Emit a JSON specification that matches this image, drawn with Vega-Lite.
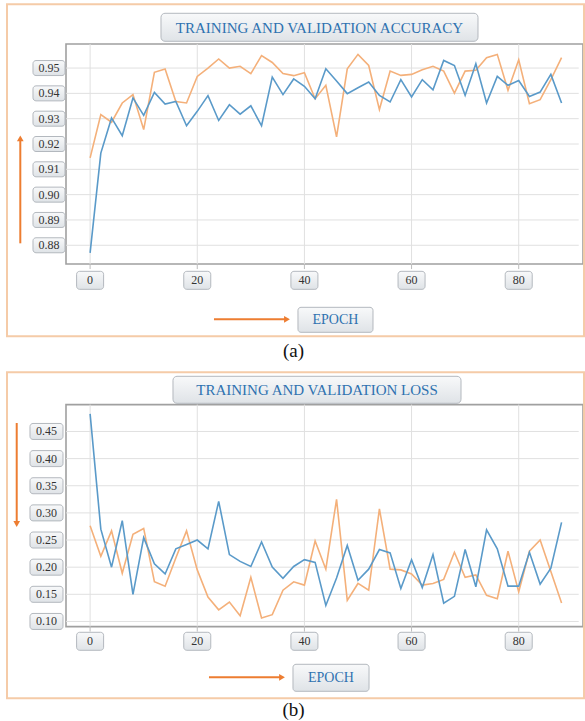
{
  "$schema": "https://vega.github.io/schema/vega-lite/v6.json",
  "padding": {"left": 5, "top": 2, "right": 0, "bottom": 0},
  "background": "white",
  "spacing": 140.6,
  "bounds": "flush",
  "config": {
    "view": {"stroke": "#a0a0a0", "strokeWidth": 1.6},
    "scale": {"continuousPadding": 0}
  },
  "datasets": {
    "acc": [
      {"epoch": 0, "train": 0.877, "val": 0.9145},
      {"epoch": 2, "train": 0.9164, "val": 0.9316},
      {"epoch": 4, "train": 0.9303, "val": 0.9286},
      {"epoch": 6, "train": 0.9233, "val": 0.9362},
      {"epoch": 8, "train": 0.9382, "val": 0.9395},
      {"epoch": 10, "train": 0.9313, "val": 0.9257},
      {"epoch": 12, "train": 0.9404, "val": 0.9483},
      {"epoch": 14, "train": 0.9358, "val": 0.9496},
      {"epoch": 16, "train": 0.9368, "val": 0.9368},
      {"epoch": 18, "train": 0.9272, "val": 0.9362},
      {"epoch": 20, "train": 0.9329, "val": 0.9467},
      {"epoch": 22, "train": 0.9391, "val": 0.95},
      {"epoch": 24, "train": 0.9293, "val": 0.9536},
      {"epoch": 26, "train": 0.9355, "val": 0.95},
      {"epoch": 28, "train": 0.9318, "val": 0.9507},
      {"epoch": 30, "train": 0.9351, "val": 0.9478},
      {"epoch": 32, "train": 0.9272, "val": 0.9549},
      {"epoch": 34, "train": 0.9464, "val": 0.9522},
      {"epoch": 36, "train": 0.9395, "val": 0.9478},
      {"epoch": 38, "train": 0.9457, "val": 0.947},
      {"epoch": 40, "train": 0.9428, "val": 0.9482},
      {"epoch": 42, "train": 0.9379, "val": 0.9379},
      {"epoch": 44, "train": 0.9497, "val": 0.9432},
      {"epoch": 46, "train": 0.9449, "val": 0.9228},
      {"epoch": 48, "train": 0.9399, "val": 0.9497},
      {"epoch": 50, "train": 0.9422, "val": 0.9554},
      {"epoch": 52, "train": 0.9445, "val": 0.951},
      {"epoch": 54, "train": 0.9392, "val": 0.9336},
      {"epoch": 56, "train": 0.9366, "val": 0.9488},
      {"epoch": 58, "train": 0.9454, "val": 0.9471},
      {"epoch": 60, "train": 0.9386, "val": 0.9475},
      {"epoch": 62, "train": 0.9454, "val": 0.9493},
      {"epoch": 64, "train": 0.9414, "val": 0.9507},
      {"epoch": 66, "train": 0.953, "val": 0.9488},
      {"epoch": 68, "train": 0.951, "val": 0.9401},
      {"epoch": 70, "train": 0.9392, "val": 0.9488},
      {"epoch": 72, "train": 0.9517, "val": 0.9491},
      {"epoch": 74, "train": 0.9362, "val": 0.9541},
      {"epoch": 76, "train": 0.9467, "val": 0.9554},
      {"epoch": 78, "train": 0.9432, "val": 0.9412},
      {"epoch": 80, "train": 0.9451, "val": 0.9533},
      {"epoch": 82, "train": 0.9388, "val": 0.9359},
      {"epoch": 84, "train": 0.9405, "val": 0.9375},
      {"epoch": 86, "train": 0.9475, "val": 0.9454},
      {"epoch": 88, "train": 0.9362, "val": 0.9541}
    ],
    "loss": [
      {"epoch": 0, "train": 0.4825, "val": 0.2763},
      {"epoch": 2, "train": 0.27, "val": 0.22},
      {"epoch": 4, "train": 0.2, "val": 0.2669},
      {"epoch": 6, "train": 0.2856, "val": 0.1888},
      {"epoch": 8, "train": 0.15, "val": 0.2606},
      {"epoch": 10, "train": 0.2544, "val": 0.2713},
      {"epoch": 12, "train": 0.2063, "val": 0.1731},
      {"epoch": 14, "train": 0.1875, "val": 0.165},
      {"epoch": 16, "train": 0.2338, "val": 0.2169},
      {"epoch": 18, "train": 0.2419, "val": 0.2669},
      {"epoch": 20, "train": 0.25, "val": 0.195},
      {"epoch": 22, "train": 0.2338, "val": 0.145},
      {"epoch": 24, "train": 0.3213, "val": 0.1213},
      {"epoch": 26, "train": 0.2231, "val": 0.1356},
      {"epoch": 28, "train": 0.2106, "val": 0.1106},
      {"epoch": 30, "train": 0.2013, "val": 0.1813},
      {"epoch": 32, "train": 0.2463, "val": 0.1063},
      {"epoch": 34, "train": 0.2, "val": 0.1125},
      {"epoch": 36, "train": 0.1794, "val": 0.1575},
      {"epoch": 38, "train": 0.2013, "val": 0.1731},
      {"epoch": 40, "train": 0.2138, "val": 0.1669},
      {"epoch": 42, "train": 0.2088, "val": 0.2481},
      {"epoch": 44, "train": 0.1294, "val": 0.1963},
      {"epoch": 46, "train": 0.18, "val": 0.325},
      {"epoch": 48, "train": 0.24, "val": 0.1388},
      {"epoch": 50, "train": 0.176, "val": 0.17},
      {"epoch": 52, "train": 0.1963, "val": 0.1575},
      {"epoch": 54, "train": 0.2325, "val": 0.3075},
      {"epoch": 56, "train": 0.2263, "val": 0.1963},
      {"epoch": 58, "train": 0.1606, "val": 0.195},
      {"epoch": 60, "train": 0.2138, "val": 0.1875},
      {"epoch": 62, "train": 0.1625, "val": 0.1669},
      {"epoch": 64, "train": 0.2231, "val": 0.17},
      {"epoch": 66, "train": 0.1338, "val": 0.1775},
      {"epoch": 68, "train": 0.1463, "val": 0.2275},
      {"epoch": 70, "train": 0.2325, "val": 0.1813},
      {"epoch": 72, "train": 0.1638, "val": 0.1856},
      {"epoch": 74, "train": 0.2688, "val": 0.1481},
      {"epoch": 76, "train": 0.2338, "val": 0.1419},
      {"epoch": 78, "train": 0.165, "val": 0.2294},
      {"epoch": 80, "train": 0.165, "val": 0.1544},
      {"epoch": 82, "train": 0.2275, "val": 0.2294},
      {"epoch": 84, "train": 0.1688, "val": 0.25},
      {"epoch": 86, "train": 0.1981, "val": 0.1919},
      {"epoch": 88, "train": 0.2825, "val": 0.1338}
    ],
    "xt": [{"t": 0}, {"t": 20}, {"t": 40}, {"t": 60}, {"t": 80}],
    "yta": [{"v": 0.88}, {"v": 0.89}, {"v": 0.9}, {"v": 0.91}, {"v": 0.92}, {"v": 0.93}, {"v": 0.94}, {"v": 0.95}],
    "ytb": [{"v": 0.1}, {"v": 0.15}, {"v": 0.2}, {"v": 0.25}, {"v": 0.3}, {"v": 0.35}, {"v": 0.4}, {"v": 0.45}],
    "one": [{}]
  },
  "vconcat": [
    {
      "width": 517,
      "height": 220,
      "layer": [
        {
          "data": {"name": "one"},
          "mark": {"type": "rect", "fill": "transparent", "stroke": "#f5cba8", "strokeWidth": 2},
          "encoding": {
            "x": {"datum": -15.51, "type": "quantitative", "axis": null},
            "x2": {"datum": 92.19},
            "y": {"datum": 0.97518, "type": "quantitative", "axis": null},
            "y2": {"datum": 0.84404}
          }
        },
        {
          "data": {"name": "xt"},
          "mark": {"type": "rule", "color": "#e0e0e0", "strokeWidth": 1},
          "encoding": {
            "x": {"field": "t", "type": "quantitative", "axis": null},
            "y": {"datum": 0.8726, "type": "quantitative", "axis": null},
            "y2": {"datum": 0.9595}
          }
        },
        {
          "data": {"name": "xt"},
          "mark": {"type": "rule", "color": "#bdbdbd", "strokeWidth": 1},
          "encoding": {
            "x": {"field": "t", "type": "quantitative", "axis": null},
            "y": {"datum": 0.8726, "type": "quantitative", "axis": null},
            "y2": {"datum": 0.8706}
          }
        },
        {
          "data": {"name": "yta"},
          "mark": {"type": "rule", "color": "#e0e0e0", "strokeWidth": 1},
          "encoding": {
            "y": {"field": "v", "type": "quantitative", "axis": null},
            "x": {"datum": -4.5, "type": "quantitative", "axis": null},
            "x2": {"datum": 91.2}
          }
        },
        {
          "data": {"name": "acc"},
          "mark": {"type": "line", "color": "#f4b07a", "strokeWidth": 1.6},
          "encoding": {
            "x": {"field": "epoch", "type": "quantitative", "scale": {"domain": [-4.5, 92], "nice": false, "zero": false, "padding": 0}, "axis": null},
            "y": {"field": "val", "type": "quantitative", "scale": {"domain": [0.8726, 0.9595], "nice": false, "zero": false, "padding": 0}, "axis": null}
          }
        },
        {
          "data": {"name": "acc"},
          "mark": {"type": "line", "color": "#5a9ac9", "strokeWidth": 1.6},
          "encoding": {
            "x": {"field": "epoch", "type": "quantitative", "axis": null},
            "y": {"field": "train", "type": "quantitative", "axis": null}
          }
        },
        {
          "data": {"name": "yta"},
          "mark": {"type": "bar", "height": 15, "cornerRadius": 3, "stroke": "#b3b8be", "strokeWidth": 1, "fill": {"gradient": "linear", "x1": 0, "y1": 0, "x2": 0, "y2": 1, "stops": [{"offset": 0, "color": "#f8f9fa"}, {"offset": 1, "color": "#dfe3e7"}]}},
          "encoding": {
            "y": {"field": "v", "type": "quantitative", "axis": null},
            "x": {"datum": -10.66, "type": "quantitative", "axis": null},
            "x2": {"datum": -4.69}
          }
        },
        {
          "data": {"name": "yta"},
          "mark": {"type": "text", "font": "Liberation Serif", "fontSize": 12, "color": "#333333", "baseline": "middle", "align": "center"},
          "encoding": {
            "y": {"field": "v", "type": "quantitative", "axis": null},
            "x": {"datum": -7.67, "type": "quantitative", "axis": null},
            "text": {"field": "v", "type": "quantitative", "format": ".2f"}
          }
        },
        {
          "data": {"name": "xt"},
          "mark": {"type": "bar", "width": 27, "cornerRadius": 3, "stroke": "#b3b8be", "strokeWidth": 1, "fill": {"gradient": "linear", "x1": 0, "y1": 0, "x2": 0, "y2": 1, "stops": [{"offset": 0, "color": "#f8f9fa"}, {"offset": 1, "color": "#dfe3e7"}]}},
          "encoding": {
            "x": {"field": "t", "type": "quantitative", "axis": null},
            "y": {"datum": 0.86971, "type": "quantitative", "axis": null},
            "y2": {"datum": 0.8626}
          }
        },
        {
          "data": {"name": "xt"},
          "mark": {"type": "text", "font": "Liberation Serif", "fontSize": 12, "color": "#333333", "baseline": "middle", "align": "center"},
          "encoding": {
            "x": {"field": "t", "type": "quantitative", "axis": null},
            "y": {"datum": 0.86616, "type": "quantitative", "axis": null},
            "text": {"field": "t", "type": "quantitative"}
          }
        },
        {
          "data": {"name": "one"},
          "mark": {"type": "rect", "cornerRadius": 4, "stroke": "#b3b8be", "strokeWidth": 1, "fill": {"gradient": "linear", "x1": 0, "y1": 0, "x2": 0, "y2": 1, "stops": [{"offset": 0, "color": "#f8f9fa"}, {"offset": 1, "color": "#dfe3e7"}]}},
          "encoding": {
            "x": {"datum": 13.23, "type": "quantitative", "axis": null},
            "x2": {"datum": 72.4},
            "y": {"datum": 0.97163, "type": "quantitative", "axis": null},
            "y2": {"datum": 0.96057}
          }
        },
        {
          "data": {"name": "one"},
          "mark": {"type": "text", "text": "TRAINING AND VALIDATION ACCURACY", "font": "Liberation Serif", "fontSize": 15, "color": "#2f72b0", "baseline": "middle", "align": "center"},
          "encoding": {
            "x": {"datum": 42.82, "type": "quantitative", "axis": null},
            "y": {"datum": 0.9659, "type": "quantitative", "axis": null}
          }
        },
        {
          "data": {"name": "one"},
          "mark": {"type": "rule", "color": "#ed7d31", "strokeWidth": 2},
          "encoding": {
            "x": {"datum": -13.03, "type": "quantitative", "axis": null},
            "y": {"datum": 0.88077, "type": "quantitative", "axis": null},
            "y2": {"datum": 0.92225}
          }
        },
        {
          "data": {"name": "one"},
          "mark": {"type": "point", "shape": "triangle-up", "filled": true, "color": "#ed7d31", "size": 45, "opacity": 1},
          "encoding": {
            "x": {"datum": -13.03, "type": "quantitative", "axis": null},
            "y": {"datum": 0.92225, "type": "quantitative", "axis": null}
          }
        },
        {
          "data": {"name": "one"},
          "mark": {"type": "rule", "color": "#ed7d31", "strokeWidth": 2},
          "encoding": {
            "x": {"datum": 23.12, "type": "quantitative", "axis": null},
            "x2": {"datum": 36.75},
            "y": {"datum": 0.85075, "type": "quantitative", "axis": null}
          }
        },
        {
          "data": {"name": "one"},
          "mark": {"type": "point", "shape": "triangle-right", "filled": true, "color": "#ed7d31", "size": 45, "opacity": 1},
          "encoding": {
            "x": {"datum": 36.75, "type": "quantitative", "axis": null},
            "y": {"datum": 0.85075, "type": "quantitative", "axis": null}
          }
        },
        {
          "data": {"name": "one"},
          "mark": {"type": "rect", "cornerRadius": 3, "stroke": "#b3b8be", "strokeWidth": 1, "fill": {"gradient": "linear", "x1": 0, "y1": 0, "x2": 0, "y2": 1, "stops": [{"offset": 0, "color": "#f8f9fa"}, {"offset": 1, "color": "#dfe3e7"}]}},
          "encoding": {
            "x": {"datum": 38.8, "type": "quantitative", "axis": null},
            "x2": {"datum": 52.8},
            "y": {"datum": 0.85549, "type": "quantitative", "axis": null},
            "y2": {"datum": 0.84562}
          }
        },
        {
          "data": {"name": "one"},
          "mark": {"type": "text", "text": "EPOCH", "font": "Liberation Serif", "fontSize": 14, "color": "#2f72b0", "baseline": "middle", "align": "center"},
          "encoding": {
            "x": {"datum": 45.8, "type": "quantitative", "axis": null},
            "y": {"datum": 0.85055, "type": "quantitative", "axis": null}
          }
        },
        {
          "data": {"name": "one"},
          "mark": {"type": "text", "text": "(a)", "font": "Liberation Serif", "fontSize": 19, "color": "#111111", "baseline": "middle", "align": "center"},
          "encoding": {
            "x": {"datum": 37.96, "type": "quantitative", "axis": null},
            "y": {"datum": 0.83811, "type": "quantitative", "axis": null}
          }
        }
      ]
    },
    {
      "width": 517,
      "height": 222,
      "layer": [
        {
          "data": {"name": "one"},
          "mark": {"type": "rect", "fill": "transparent", "stroke": "#f5cba8", "strokeWidth": 2},
          "encoding": {
            "x": {"datum": -15.51, "type": "quantitative", "axis": null},
            "x2": {"datum": 92.19},
            "y": {"datum": 0.55901, "type": "quantitative", "axis": null},
            "y2": {"datum": -0.04158}
          }
        },
        {
          "data": {"name": "xt"},
          "mark": {"type": "rule", "color": "#e0e0e0", "strokeWidth": 1},
          "encoding": {
            "x": {"field": "t", "type": "quantitative", "axis": null},
            "y": {"datum": 0.0905, "type": "quantitative", "axis": null},
            "y2": {"datum": 0.4995}
          }
        },
        {
          "data": {"name": "xt"},
          "mark": {"type": "rule", "color": "#bdbdbd", "strokeWidth": 1},
          "encoding": {
            "x": {"field": "t", "type": "quantitative", "axis": null},
            "y": {"datum": 0.0905, "type": "quantitative", "axis": null},
            "y2": {"datum": 0.0813}
          }
        },
        {
          "data": {"name": "ytb"},
          "mark": {"type": "rule", "color": "#e0e0e0", "strokeWidth": 1},
          "encoding": {
            "y": {"field": "v", "type": "quantitative", "axis": null},
            "x": {"datum": -4.5, "type": "quantitative", "axis": null},
            "x2": {"datum": 91.2}
          }
        },
        {
          "data": {"name": "loss"},
          "mark": {"type": "line", "color": "#f4b07a", "strokeWidth": 1.6},
          "encoding": {
            "x": {"field": "epoch", "type": "quantitative", "scale": {"domain": [-4.5, 92], "nice": false, "zero": false, "padding": 0}, "axis": null},
            "y": {"field": "val", "type": "quantitative", "scale": {"domain": [0.0905, 0.4995], "nice": false, "zero": false, "padding": 0}, "axis": null}
          }
        },
        {
          "data": {"name": "loss"},
          "mark": {"type": "line", "color": "#5a9ac9", "strokeWidth": 1.6},
          "encoding": {
            "x": {"field": "epoch", "type": "quantitative", "axis": null},
            "y": {"field": "train", "type": "quantitative", "axis": null}
          }
        },
        {
          "data": {"name": "ytb"},
          "mark": {"type": "bar", "height": 16, "cornerRadius": 3, "stroke": "#b3b8be", "strokeWidth": 1, "fill": {"gradient": "linear", "x1": 0, "y1": 0, "x2": 0, "y2": 1, "stops": [{"offset": 0, "color": "#f8f9fa"}, {"offset": 1, "color": "#dfe3e7"}]}},
          "encoding": {
            "y": {"field": "v", "type": "quantitative", "axis": null},
            "x": {"datum": -11.22, "type": "quantitative", "axis": null},
            "x2": {"datum": -5.06}
          }
        },
        {
          "data": {"name": "ytb"},
          "mark": {"type": "text", "font": "Liberation Serif", "fontSize": 12, "color": "#333333", "baseline": "middle", "align": "center"},
          "encoding": {
            "y": {"field": "v", "type": "quantitative", "axis": null},
            "x": {"datum": -8.14, "type": "quantitative", "axis": null},
            "text": {"field": "v", "type": "quantitative", "format": ".2f"}
          }
        },
        {
          "data": {"name": "xt"},
          "mark": {"type": "bar", "width": 27, "cornerRadius": 3, "stroke": "#b3b8be", "strokeWidth": 1, "fill": {"gradient": "linear", "x1": 0, "y1": 0, "x2": 0, "y2": 1, "stops": [{"offset": 0, "color": "#f8f9fa"}, {"offset": 1, "color": "#dfe3e7"}]}},
          "encoding": {
            "x": {"field": "t", "type": "quantitative", "axis": null},
            "y": {"datum": 0.08001, "type": "quantitative", "axis": null},
            "y2": {"datum": 0.04685}
          }
        },
        {
          "data": {"name": "xt"},
          "mark": {"type": "text", "font": "Liberation Serif", "fontSize": 12, "color": "#333333", "baseline": "middle", "align": "center"},
          "encoding": {
            "x": {"field": "t", "type": "quantitative", "axis": null},
            "y": {"datum": 0.06342, "type": "quantitative", "axis": null},
            "text": {"field": "t", "type": "quantitative"}
          }
        },
        {
          "data": {"name": "one"},
          "mark": {"type": "rect", "cornerRadius": 4, "stroke": "#b3b8be", "strokeWidth": 1, "fill": {"gradient": "linear", "x1": 0, "y1": 0, "x2": 0, "y2": 1, "stops": [{"offset": 0, "color": "#f8f9fa"}, {"offset": 1, "color": "#dfe3e7"}]}},
          "encoding": {
            "x": {"datum": 15.47, "type": "quantitative", "axis": null},
            "x2": {"datum": 69.23},
            "y": {"datum": 0.55164, "type": "quantitative", "axis": null},
            "y2": {"datum": 0.5019}
          }
        },
        {
          "data": {"name": "one"},
          "mark": {"type": "text", "text": "TRAINING AND VALIDATION LOSS", "font": "Liberation Serif", "fontSize": 15, "color": "#2f72b0", "baseline": "middle", "align": "center"},
          "encoding": {
            "x": {"datum": 42.35, "type": "quantitative", "axis": null},
            "y": {"datum": 0.52677, "type": "quantitative", "axis": null}
          }
        },
        {
          "data": {"name": "one"},
          "mark": {"type": "rule", "color": "#ed7d31", "strokeWidth": 2},
          "encoding": {
            "x": {"datum": -13.7, "type": "quantitative", "axis": null},
            "y": {"datum": 0.4656, "type": "quantitative", "axis": null},
            "y2": {"datum": 0.27953}
          }
        },
        {
          "data": {"name": "one"},
          "mark": {"type": "point", "shape": "triangle-down", "filled": true, "color": "#ed7d31", "size": 45, "opacity": 1},
          "encoding": {
            "x": {"datum": -13.7, "type": "quantitative", "axis": null},
            "y": {"datum": 0.27953, "type": "quantitative", "axis": null}
          }
        },
        {
          "data": {"name": "one"},
          "mark": {"type": "rule", "color": "#ed7d31", "strokeWidth": 2},
          "encoding": {
            "x": {"datum": 22.19, "type": "quantitative", "axis": null},
            "x2": {"datum": 35.82},
            "y": {"datum": -0.0029, "type": "quantitative", "axis": null}
          }
        },
        {
          "data": {"name": "one"},
          "mark": {"type": "point", "shape": "triangle-right", "filled": true, "color": "#ed7d31", "size": 45, "opacity": 1},
          "encoding": {
            "x": {"datum": 35.82, "type": "quantitative", "axis": null},
            "y": {"datum": -0.0029, "type": "quantitative", "axis": null}
          }
        },
        {
          "data": {"name": "one"},
          "mark": {"type": "rect", "cornerRadius": 3, "stroke": "#b3b8be", "strokeWidth": 1, "fill": {"gradient": "linear", "x1": 0, "y1": 0, "x2": 0, "y2": 1, "stops": [{"offset": 0, "color": "#f8f9fa"}, {"offset": 1, "color": "#dfe3e7"}]}},
          "encoding": {
            "x": {"datum": 37.87, "type": "quantitative", "axis": null},
            "x2": {"datum": 52.06},
            "y": {"datum": 0.02105, "type": "quantitative", "axis": null},
            "y2": {"datum": -0.02869}
          }
        },
        {
          "data": {"name": "one"},
          "mark": {"type": "text", "text": "EPOCH", "font": "Liberation Serif", "fontSize": 14, "color": "#2f72b0", "baseline": "middle", "align": "center"},
          "encoding": {
            "x": {"datum": 44.96, "type": "quantitative", "axis": null},
            "y": {"datum": -0.00382, "type": "quantitative", "axis": null}
          }
        },
        {
          "data": {"name": "one"},
          "mark": {"type": "text", "text": "(b)", "font": "Liberation Serif", "fontSize": 19, "color": "#111111", "baseline": "middle", "align": "center"},
          "encoding": {
            "x": {"datum": 37.96, "type": "quantitative", "axis": null},
            "y": {"datum": -0.06369, "type": "quantitative", "axis": null}
          }
        }
      ]
    }
  ]
}
